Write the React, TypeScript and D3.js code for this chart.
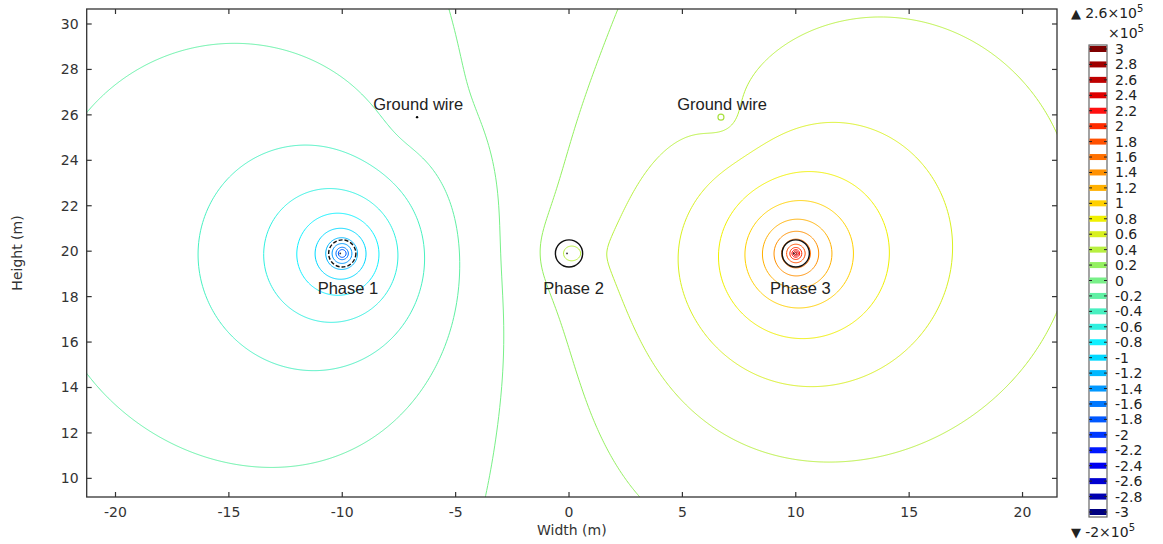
import React, { useRef, useEffect } from 'react';
import * as d3 from 'd3';

// conductor layout (metres)
const phaseNames = ['Phase 1', 'Phase 2', 'Phase 3'];
const phaseX = [-10, 0, 10];
const phaseY = [19.9, 19.9, 19.9];
const conductorRadius = 0.6;

const groundWireX = [-6.7, 6.7];
const groundWireY = [25.9, 25.9];
const groundWireMark = ['dot', 'ring'];

// equivalent line charges (phases, then ground wires), x10^5 V per ln of distance ratio,
// estimated from where the reference's contours cross
const chargeX = [...phaseX, ...groundWireX];
const chargeY = [...phaseY, ...groundWireY];
const chargeStrength = [-0.425, 0.074, 0.455, 0.046, -0.064];
const chargeCore = [0.03, 0.03, 0.03, 0.12, 0.12]; // m, potential is flat inside
const fieldOffset = 0.027;
const groundLevel = 0; // zero-potential plane, m

// contour levels (x10^5 V) and their colours, top of legend first
const levelValues = [3, 2.8, 2.6, 2.4, 2.2, 2, 1.8, 1.6, 1.4, 1.2, 1, 0.8, 0.6, 0.4, 0.2, 0,
  -0.2, -0.4, -0.6, -0.8, -1, -1.2, -1.4, -1.6, -1.8, -2, -2.2, -2.4, -2.6, -2.8, -3];
const levelLabels = ['3', '2.8', '2.6', '2.4', '2.2', '2', '1.8', '1.6', '1.4', '1.2', '1', '0.8', '0.6', '0.4', '0.2', '0',
  '-0.2', '-0.4', '-0.6', '-0.8', '-1', '-1.2', '-1.4', '-1.6', '-1.8', '-2', '-2.2', '-2.4', '-2.6', '-2.8', '-3'];
const levelColors = ['#7f0000', '#a00000', '#bf0000', '#df0000', '#ff1010', '#ff2c00', '#ff5000', '#ff7000',
  '#ff9000', '#ffb000', '#ffd000', '#f0f000', '#d8f020', '#b8f040', '#94f060', '#78f088',
  '#60f0a4', '#48f0c0', '#30f0e0', '#10f0ff', '#00d8ff', '#00b8ff', '#0098ff', '#0078ff',
  '#0058ff', '#0038ff', '#0018ff', '#0000f0', '#0000d0', '#0000b0', '#000080'];
const valueMax = 2.6;
const valueMin = -2;

const xTicks = [-20, -15, -10, -5, 0, 5, 10, 15, 20];
const yTicks = [10, 12, 14, 16, 18, 20, 22, 24, 26, 28, 30];
const xDomain = [-21.27, 21.52];
const yDomain = [9.18, 30.66];

const labelText = ['Ground wire', 'Ground wire', 'Phase 1', 'Phase 2', 'Phase 3'];
const labelX = [-6.65, 6.75, -9.75, 0.2, 10.2];
const labelY = [26.2, 26.2, 18.1, 18.1, 18.1];

const TICK_FONT = 'DejaVu Sans, sans-serif';
const LABEL_FONT = 'Liberation Sans, Arial, sans-serif';

// potential of all line charges with their images below the ground plane
function potential(px: number, py: number) {
  let v = fieldOffset;
  for (let k = 0; k < chargeX.length; k++) {
    const dx = px - chargeX[k];
    const dy = py - chargeY[k];
    const dyi = py + chargeY[k] - 2 * groundLevel;
    const r2 = Math.max(dx * dx + dy * dy, chargeCore[k] * chargeCore[k]);
    v += chargeStrength[k] * 0.5 * Math.log((dx * dx + dyi * dyi) / r2);
  }
  return Math.max(valueMin, Math.min(valueMax, v));
}

export default function App() {
  const svgRef = useRef<SVGSVGElement>(null);

  useEffect(() => {
    const svg = d3.select(svgRef.current);
    svg.selectAll('*').remove();

    const left = 86.7, right = 1057, top = 9, bottom = 497;
    const x = d3.scaleLinear().domain(xDomain).range([left, right]);
    const y = d3.scaleLinear().domain(yDomain).range([bottom, top]);
    const color = d3.scaleOrdinal<number, string>().domain(levelValues).range(levelColors);

    // sample on a one pixel grid, a bit past the frame so edges get clipped away
    const pad = 3;
    const nx = Math.ceil(right - left) + 2 * pad;
    const ny = Math.ceil(bottom - top) + 2 * pad;
    const gx = d3.scaleLinear().domain([0, 1]).range([x.invert(left - pad), x.invert(left - pad + 1)]);
    const gy = d3.scaleLinear().domain([0, 1]).range([y.invert(top - pad), y.invert(top - pad + 1)]);
    const values = new Float64Array(nx * ny);
    for (let j = 0; j < ny; j++) {
      const py = gy(j);
      for (let i = 0; i < nx; i++) values[j * nx + i] = potential(gx(i), py);
    }

    const contours = d3.contours().size([nx, ny]).thresholds(levelValues)(values as any);
    const proj = d3.geoTransform({
      point(cx: number, cy: number) {
        this.stream.point(x(gx(cx - 0.5)), y(gy(cy - 0.5)));
      }
    });
    const path = d3.geoPath(proj);

    svg.append('defs').append('clipPath').attr('id', 'plot-clip')
      .append('rect').attr('x', left).attr('y', top).attr('width', right - left).attr('height', bottom - top);

    const plot = svg.append('g').attr('clip-path', 'url(#plot-clip)');

    plot.selectAll('path.iso')
      .data(contours)
      .join('path')
      .attr('class', 'iso')
      .attr('d', d => path(d as any))
      .attr('fill', 'none')
      .attr('stroke', d => color(d.value))
      .attr('stroke-width', 1);

    // conductor outlines
    plot.selectAll('circle.cond')
      .data(phaseNames)
      .join('circle')
      .attr('class', 'cond')
      .attr('cx', (d, i) => x(phaseX[i]))
      .attr('cy', (d, i) => y(phaseY[i]))
      .attr('r', x(conductorRadius) - x(0))
      .attr('fill', 'none')
      .attr('stroke', '#111')
      .attr('stroke-width', 1.4)
      .attr('stroke-dasharray', (d, i) => i === 0 ? '4,2' : null);

    plot.selectAll('circle.core')
      .data(phaseNames)
      .join('circle')
      .attr('class', 'core')
      .attr('cx', (d, i) => x(phaseX[i]) - 2)
      .attr('cy', (d, i) => y(phaseY[i]))
      .attr('r', 0.9)
      .attr('fill', '#333');

    // ground wires
    plot.selectAll('circle.gw')
      .data(groundWireMark)
      .join('circle')
      .attr('class', 'gw')
      .attr('cx', (d, i) => x(groundWireX[i]))
      .attr('cy', (d, i) => y(groundWireY[i]))
      .attr('r', d => d === 'dot' ? 1.2 : 3)
      .attr('fill', d => d === 'dot' ? '#000' : 'none')
      .attr('stroke', d => d === 'dot' ? 'none' : '#a8e040')
      .attr('stroke-width', 1.2);

    plot.selectAll('text.lbl')
      .data(labelText)
      .join('text')
      .attr('class', 'lbl')
      .attr('x', (d, i) => x(labelX[i]))
      .attr('y', (d, i) => y(labelY[i]))
      .attr('text-anchor', 'middle')
      .attr('font-family', LABEL_FONT)
      .attr('font-size', 16.5)
      .attr('fill', '#222')
      .text(d => d);

    // frame and inward ticks on all four sides
    svg.append('rect').attr('x', left).attr('y', top).attr('width', right - left).attr('height', bottom - top)
      .attr('fill', 'none').attr('stroke', '#333').attr('stroke-width', 1.3);

    const tickLen = 5;
    const axes = svg.append('g').attr('stroke', '#333').attr('stroke-width', 1.2);
    xTicks.forEach(t => {
      axes.append('line').attr('x1', x(t)).attr('x2', x(t)).attr('y1', bottom).attr('y2', bottom - tickLen);
      axes.append('line').attr('x1', x(t)).attr('x2', x(t)).attr('y1', top).attr('y2', top + tickLen);
    });
    yTicks.forEach(t => {
      axes.append('line').attr('y1', y(t)).attr('y2', y(t)).attr('x1', left).attr('x2', left + tickLen);
      axes.append('line').attr('y1', y(t)).attr('y2', y(t)).attr('x1', right).attr('x2', right - tickLen);
    });

    svg.append('g').selectAll('text')
      .data(xTicks)
      .join('text')
      .attr('x', d => x(d))
      .attr('y', bottom + 20)
      .attr('text-anchor', 'middle')
      .attr('font-family', TICK_FONT)
      .attr('font-size', 14)
      .attr('fill', '#333')
      .text(d => String(d));

    svg.append('g').selectAll('text')
      .data(yTicks)
      .join('text')
      .attr('x', left - 8)
      .attr('y', d => y(d) + 5)
      .attr('text-anchor', 'end')
      .attr('font-family', TICK_FONT)
      .attr('font-size', 14)
      .attr('fill', '#333')
      .text(d => String(d));

    svg.append('text')
      .attr('x', (left + right) / 2)
      .attr('y', 535)
      .attr('text-anchor', 'middle')
      .attr('font-family', TICK_FONT)
      .attr('font-size', 14)
      .attr('fill', '#333')
      .text('Width (m)');

    svg.append('text')
      .attr('transform', `translate(22, ${(top + bottom) / 2}) rotate(-90)`)
      .attr('text-anchor', 'middle')
      .attr('font-family', TICK_FONT)
      .attr('font-size', 14)
      .attr('fill', '#333')
      .text('Height (m)');

    // colour legend
    const barX = 1089, barW = 18;
    const barY = d3.scalePoint<number>().domain(levelValues).range([49, 512]);
    const legend = svg.append('g');
    legend.append('rect').attr('x', barX).attr('y', 45).attr('width', barW).attr('height', 472)
      .attr('fill', '#fff').attr('stroke', '#666').attr('stroke-width', 1.2);
    legend.selectAll('rect.band')
      .data(levelValues)
      .join('rect')
      .attr('class', 'band')
      .attr('x', barX + 0.6)
      .attr('y', d => (barY(d) as number) - 3)
      .attr('width', barW - 1.2)
      .attr('height', 6)
      .attr('fill', d => color(d));
    legend.selectAll('path.tk')
      .data(levelValues)
      .join('path')
      .attr('class', 'tk')
      .attr('d', d => {
        const yy = barY(d) as number;
        return `M${barX},${yy}h3M${barX + barW},${yy}h-3`;
      })
      .attr('stroke', '#222')
      .attr('stroke-width', 1);
    legend.selectAll('text.lv')
      .data(levelValues)
      .join('text')
      .attr('class', 'lv')
      .attr('x', barX + barW + 8)
      .attr('y', d => (barY(d) as number) + 5)
      .attr('font-family', TICK_FONT)
      .attr('font-size', 14)
      .attr('fill', '#222')
      .text((d, i) => levelLabels[i]);

    const maxLabel = legend.append('text').attr('x', 1071).attr('y', 18)
      .attr('font-family', TICK_FONT).attr('font-size', 14).attr('fill', '#222');
    maxLabel.append('tspan').attr('font-size', 13).text('▲ ');
    maxLabel.append('tspan').text('2.6×10');
    maxLabel.append('tspan').attr('font-size', 10).attr('dy', -6).text('5');

    const unitLabel = legend.append('text').attr('x', 1108).attr('y', 38)
      .attr('font-family', TICK_FONT).attr('font-size', 14).attr('fill', '#222');
    unitLabel.append('tspan').text('×10');
    unitLabel.append('tspan').attr('font-size', 10).attr('dy', -6).text('5');

    const minLabel = legend.append('text').attr('x', 1071).attr('y', 537)
      .attr('font-family', TICK_FONT).attr('font-size', 14).attr('fill', '#222');
    minLabel.append('tspan').attr('font-size', 13).text('▼ ');
    minLabel.append('tspan').text('-2×10');
    minLabel.append('tspan').attr('font-size', 10).attr('dy', -6).text('5');
  }, []);

  return (
    <svg
      ref={svgRef}
      width={1163}
      height={544}
      style={{ position: 'absolute', left: 0, top: 0, background: '#fff' }}
    />
  );
}
